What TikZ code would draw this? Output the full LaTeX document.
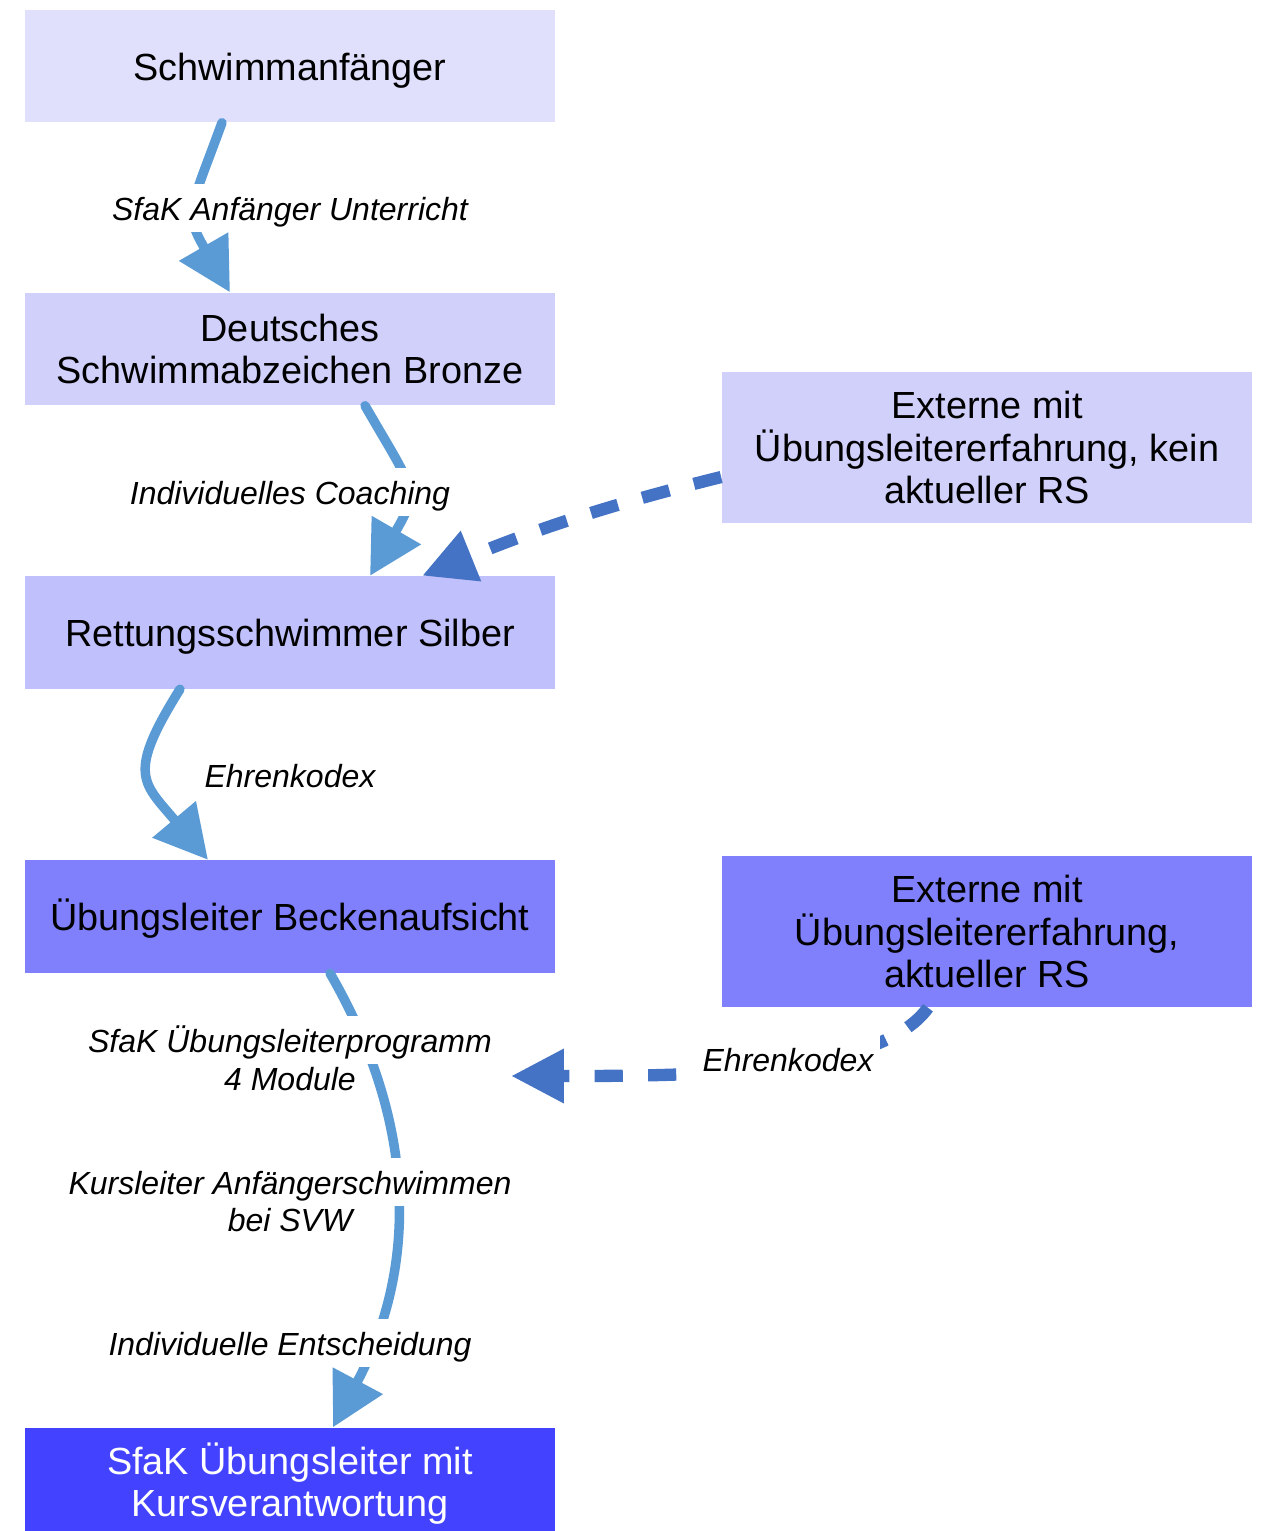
\documentclass[tikz,border=0pt]{standalone}
\usepackage{fontspec}
\setmainfont{Liberation Sans}
\usetikzlibrary{arrows.meta}
\definecolor{cA}{HTML}{E0E0FC}
\definecolor{cB}{HTML}{D0D0FB}
\definecolor{cC}{HTML}{C0C0FC}
\definecolor{cD}{HTML}{8080FD}
\definecolor{cE}{HTML}{4343FF}
\definecolor{chalk}{HTML}{5B9BD5}
\definecolor{dashc}{HTML}{4472C4}
\begin{document}
\begin{tikzpicture}[x=0.01cm,y=-0.01cm,
 box/.style={rectangle, inner sep=0pt, minimum width=5.30cm, minimum height=1.12cm, align=center,
   font=\fontsize{10.75}{11.95}\selectfont},
 onebox/.style={box, execute at begin node={\rule{0pt}{0.96em}}, execute at end node={\rule[-0.21em]{0pt}{0.21em}}},
 ext/.style={box, minimum height=1.51cm},
 lbl/.style={fill=white, inner xsep=2pt, inner ysep=1pt, text height=0.93em, text depth=0.21em, font=\fontsize{9.1}{10.8}\selectfont\itshape},
 chalkarrow/.style={draw=chalk, line width=2.7pt, line cap=round, -{Triangle[length=15pt,width=15.5pt]}},
 dasharrow/.style={draw=dashc, line width=3.5pt, dash pattern=on 8pt off 7.2pt, -{Triangle[length=15pt,width=14.5pt]}}]
\useasboundingbox (0,0) rectangle (1263,1531);
\fill[white] (0,0) rectangle (1263,1531);
% boxes
\node[onebox, fill=cA] (b1) at (290,66) {Schwimmanfänger};
\node[box, fill=cB] (b2) at (290,349) {Deutsches\\Schwimmabzeichen Bronze};
\node[onebox, fill=cC] (b3) at (290,632.5) {Rettungsschwimmer Silber};
\node[onebox, fill=cD] (b4) at (290,916.5) {Übungsleiter Beckenaufsicht};
\node[box, fill=cE, text=white] (b5) at (290,1484) {SfaK Übungsleiter mit\\Kursverantwortung};
\node[ext, fill=cB] (e1) at (987,447.5) {Externe mit\\Übungsleitererfahrung, kein\\aktueller RS};
\node[ext, fill=cD] (e2) at (987,931.5) {Externe mit\\Übungsleitererfahrung,\\aktueller RS};
% chalk arrows
\draw[chalkarrow] ([xshift=-0.68cm]b1.south) to[out=250,in=120,looseness=1.4] ([xshift=-0.60cm]b2.north);
\draw[chalkarrow] ([xshift=0.75cm]b2.south) to[out=300,in=60,looseness=1.5] ([xshift=0.80cm]b3.north);
\draw[chalkarrow] ([xshift=-1.10cm]b3.south) to[out=238,in=130,looseness=1.5] ([xshift=-0.82cm]b4.north);
\draw[chalkarrow] ([xshift=0.40cm]b4.south) to[out=300,in=62,looseness=1.0] ([xshift=0.43cm]b5.north);
% dashed arrows
\draw[dasharrow] ([yshift=-0.295cm]e1.west) to[out=194,in=22] ([xshift=1.32cm]b3.north);
\coordinate (t6) at (511,1076);
\draw[dasharrow] ([xshift=-0.59cm]e2.south) to[out=234,in=0,out looseness=0.5,in looseness=1.15] (t6);
% labels
\node[lbl] (l1) at (290,208) {SfaK Anfänger Unterricht};
\node[lbl] (l2) at (290,492) {Individuelles Coaching};
\node[lbl] (l3) at (290,775) {Ehrenkodex};
\node[lbl] (l4b) at (290,1078) {4 Module};
\node[lbl] (l4a) at (290,1040) {SfaK Übungsleiterprogramm};
\node[lbl] (l5b) at (290,1219) {bei SVW};
\node[lbl] (l5a) at (290,1182) {Kursleiter Anfängerschwimmen};
\node[lbl] (l6) at (290,1343) {Individuelle Entscheidung};
\node[lbl] (l7) at (788,1059) {Ehrenkodex};
\end{tikzpicture}
\end{document}
